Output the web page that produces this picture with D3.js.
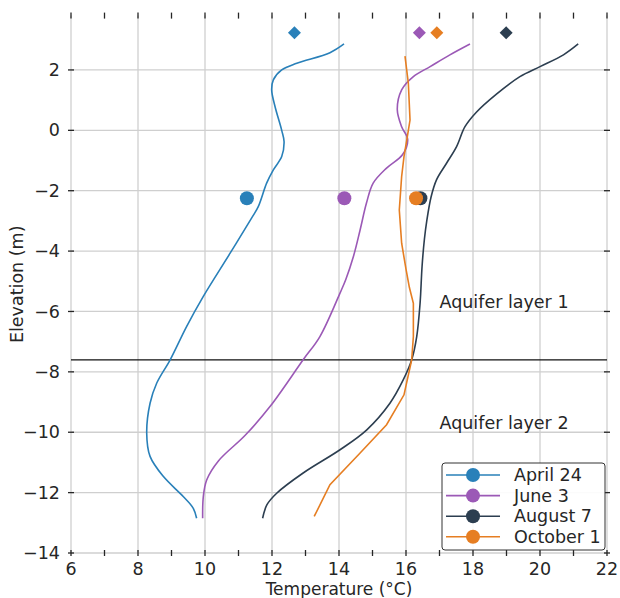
<!DOCTYPE html>
<html>
<head>
<meta charset="utf-8">
<script src="https://cdn.jsdelivr.net/npm/d3@7"></script>
<style>
    body { margin: 0; background: #fff; }
    svg { font-family: "DejaVu Sans", sans-serif; }
    .grid line { stroke: #cfcfcf; stroke-width: 1.3; }
    .tick-mark { stroke: #262626; stroke-width: 1.3; }
    .lbl { fill: #262626; font-size: 17.5px; }
</style>
</head>
<body>
<div id="chart"></div>
<script>
// series names + colours
var seriesNames = ["April 24", "June 3", "August 7", "October 1"];
var seriesColors = ["#2980b9", "#9b59b6", "#2c3e50", "#e67e22"];

// temperature profiles [temp, elevation]
var april24 = [[14.15, 2.86], [13.73, 2.57], [12.74, 2.22], [12.29, 2.0], [12.04, 1.67], [11.99, 1.34],
    [12.09, 0.79], [12.29, 0], [12.36, -0.37], [12.29, -0.87], [12.04, -1.31], [11.84, -1.75],
    [11.59, -2.53], [11.39, -2.91], [10.75, -4.07], [9.95, -5.5], [9.45, -6.5],
    [8.96, -7.6], [8.56, -8.37], [8.36, -9.04], [8.26, -10.03], [8.36, -10.8], [8.76, -11.47],
    [9.35, -12.13], [9.65, -12.52], [9.75, -12.85]];
var june3 = [[17.91, 2.86], [17.31, 2.5], [16.72, 2.11], [16.22, 1.78], [15.87, 1.34], [15.74, 0.68],
    [15.87, 0.12], [16.05, -0.3], [15.9, -0.8], [15.42, -1.25], [15.02, -1.75], [14.82, -2.41],
    [14.63, -3.3], [14.43, -4.18], [14.2, -4.95], [14.03, -5.39], [13.43, -6.83], [12.93, -7.6],
    [11.94, -9.15], [11.2, -10.1], [10.4, -10.95], [10.05, -11.58], [9.95, -12.13], [9.93, -12.85]];
var august7 = [[21.14, 2.86], [20.7, 2.5], [20.0, 2.11], [19.4, 1.78], [18.7, 1.2], [18.1, 0.6],
    [17.76, 0.12], [17.51, -0.54], [17.21, -1.09], [16.91, -1.64], [16.75, -2.2], [16.62, -3.0],
    [16.55, -3.6], [16.48, -4.5], [16.42, -5.73], [16.32, -6.83], [16.17, -7.6], [15.92, -8.26],
    [15.52, -9.04], [14.83, -9.92], [14.03, -10.58], [12.93, -11.35], [12.14, -12.02],
    [11.85, -12.4], [11.72, -12.85]];
var october1 = [[15.97, 2.46], [16.07, 1.56], [16.12, 0.34], [16.04, -0.21], [15.94, -0.87],
    [15.87, -1.53], [15.8, -2.64], [15.87, -3.74], [16.0, -4.6], [16.1, -5.2], [16.22, -5.73],
    [16.22, -6.83], [16.17, -7.6], [15.94, -8.76], [15.42, -9.75], [14.63, -10.69],
    [13.73, -11.74], [13.26, -12.79]];

// circle markers (at -2.25 m) and diamond markers (at surface)
var circleTemps = [11.25, 14.16, 16.43, 16.3];
var circleElev = -2.25;
var diamondTemps = [12.67, 16.4, 18.99, 16.92];
var diamondElev = 3.23;

var layerBoundary = -7.6;
var layerLabels = [{text: "Aquifer layer 1", t: 17.0, e: -5.9}, {text: "Aquifer layer 2", t: 17.0, e: -9.9}];

var xTicks = [6, 8, 10, 12, 14, 16, 18, 20, 22];
var xMinorTicks = d3.range(6, 23, 1);
var yTicks = [2, 0, -2, -4, -6, -8, -10, -12, -14];

var w = 620, h = 598,
    margin = {top: 15.6, right: 13, bottom: 45, left: 71},
    width = w - margin.left - margin.right,
    height = h - margin.top - margin.bottom;

var svg = d3.select("#chart").append("svg").attr("width", w).attr("height", h);
var g = svg.append("g").attr("transform", "translate(" + margin.left + "," + margin.top + ")");

var x = d3.scaleLinear().domain([6, 22]).range([0, width]);
var y = d3.scaleLinear().domain([-14, 3.8]).range([height, 0]);

// grid
var grid = g.append("g").attr("class", "grid");
grid.selectAll(".gx").data(xTicks).enter().append("line")
    .attr("x1", function (d) { return x(d); }).attr("x2", function (d) { return x(d); })
    .attr("y1", 0).attr("y2", height);
grid.selectAll(".gy").data(yTicks).enter().append("line")
    .attr("y1", function (d) { return y(d); }).attr("y2", function (d) { return y(d); })
    .attr("x1", 0).attr("x2", width);

// ticks (in-out) on all four sides
var tl = 3;
var ticks = g.append("g");
[0, height].forEach(function (yy) {
    ticks.selectAll(null).data(xMinorTicks).enter().append("line")
        .attr("class", "tick-mark")
        .attr("x1", function (d) { return x(d); }).attr("x2", function (d) { return x(d); })
        .attr("y1", yy - tl).attr("y2", yy + tl);
});
[0, width].forEach(function (xx) {
    ticks.selectAll(null).data(yTicks).enter().append("line")
        .attr("class", "tick-mark")
        .attr("y1", function (d) { return y(d); }).attr("y2", function (d) { return y(d); })
        .attr("x1", xx - tl).attr("x2", xx + tl);
});

// tick labels
g.selectAll(".xl").data(xTicks).enter().append("text")
    .attr("class", "lbl")
    .attr("x", function (d) { return x(d); })
    .attr("y", height + 22)
    .attr("text-anchor", "middle")
    .text(function (d) { return d; });
g.selectAll(".yl").data(yTicks).enter().append("text")
    .attr("class", "lbl")
    .attr("x", -11)
    .attr("y", function (d) { return y(d); })
    .attr("dy", "0.35em")
    .attr("text-anchor", "end")
    .text(function (d) { return d < 0 ? "\u2212" + Math.abs(d) : d; });

// axis titles
svg.append("text").attr("class", "lbl")
    .attr("x", margin.left + width / 2).attr("y", 595)
    .attr("text-anchor", "middle")
    .style("font-size", "17px")
    .text("Temperature (\u00b0C)");
svg.append("text").attr("class", "lbl")
    .attr("transform", "translate(23," + (margin.top + height / 2) + ") rotate(-90)")
    .attr("text-anchor", "middle")
    .text("Elevation (m)");

// layer boundary
g.append("line")
    .attr("x1", 0).attr("x2", width)
    .attr("y1", y(layerBoundary)).attr("y2", y(layerBoundary))
    .style("stroke", "#111").style("stroke-width", 1.2);

g.selectAll(".layer").data(layerLabels).enter().append("text")
    .attr("class", "lbl")
    .attr("x", function (d) { return x(d.t); })
    .attr("y", function (d) { return y(d.e); })
    .text(function (d) { return d.text; });

// profiles
var profiles = [april24, june3, august7, october1];
var smooth = d3.line().curve(d3.curveCatmullRom)
    .x(function (d) { return x(d[0]); })
    .y(function (d) { return y(d[1]); });
var straight = d3.line()
    .x(function (d) { return x(d[0]); })
    .y(function (d) { return y(d[1]); });

profiles.forEach(function (p, i) {
    g.append("path")
        .datum(p)
        .attr("d", i == 3 ? straight : smooth)
        .style("fill", "none")
        .style("stroke", seriesColors[i])
        .style("stroke-width", 1.6);
});

profiles.forEach(function (p, i) {
    g.append("circle")
        .attr("cx", x(circleTemps[i]))
        .attr("cy", y(circleElev))
        .attr("r", 7)
        .style("fill", seriesColors[i]);
    g.append("rect")
        .attr("x", -4.6).attr("y", -4.6)
        .attr("width", 9.2).attr("height", 9.2)
        .attr("transform", "translate(" + x(diamondTemps[i]) + "," + y(diamondElev) + ") rotate(45)")
        .style("fill", seriesColors[i]);
});

// legend
var legend = svg.append("g").attr("transform", "translate(442,463)");
legend.append("rect")
    .attr("width", 163).attr("height", 87)
    .attr("rx", 3)
    .style("fill", "#fff").style("fill-opacity", 0.9)
    .style("stroke", "#333").style("stroke-width", 1);
seriesNames.forEach(function (name, i) {
    var row = legend.append("g").attr("transform", "translate(0," + (12 + i * 20.6) + ")");
    row.append("line")
        .attr("x1", 4).attr("x2", 58)
        .style("stroke", seriesColors[i]).style("stroke-width", 1.6);
    row.append("circle")
        .attr("cx", 31).attr("r", 7)
        .style("fill", seriesColors[i]);
    row.append("text")
        .attr("class", "lbl")
        .attr("x", 72).attr("dy", "0.35em")
        .text(name);
});
</script>
</body>
</html>
